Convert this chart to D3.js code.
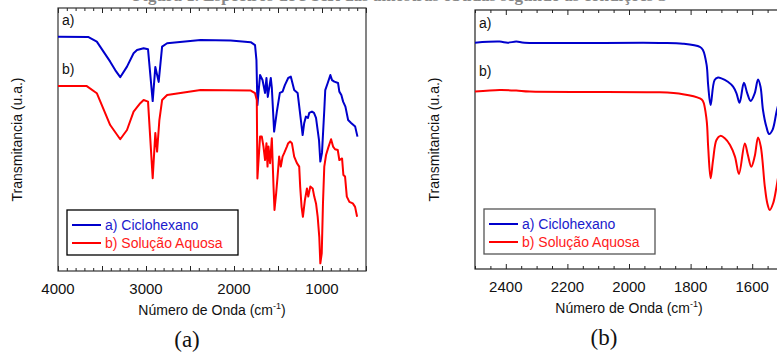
<!DOCTYPE html>
<html>
<head>
<meta charset="utf-8">
<script src="https://cdn.jsdelivr.net/npm/d3@7"></script>
<style>
  body { margin: 0; background: #fff; }
  svg { display: block; }
</style>
</head>
<body>
<svg id="chart" width="777" height="353"></svg>
<script>
// spectra as [wavenumber cm-1, transmittance a.u.]
const ciclohexanoA = [
  [4000, 89.1], [3658, 89.0], [3559, 87.2], [3407, 79.6], [3350, 76.4], [3293, 73.7],
  [3216, 77.7], [3141, 82.8], [3102, 84.0], [3027, 84.7], [2977, 84.3], [2924, 64.6],
  [2894, 77.6], [2856, 71.9], [2817, 85.3], [2760, 86.6], [2380, 87.8], [2038, 87.6],
  [1810, 87.0], [1761, 85.9], [1745, 80.2], [1734, 63.1], [1704, 74.5], [1676, 72.6],
  [1647, 67.7], [1631, 73.4], [1616, 66.2], [1582, 73.4], [1570, 69.6], [1544, 53.0],
  [1513, 60.6], [1479, 67.7], [1448, 68.2], [1422, 70.7], [1384, 73.4], [1354, 73.9],
  [1316, 68.8], [1277, 67.7], [1240, 57.4], [1220, 51.7], [1202, 56.3], [1183, 58.7],
  [1160, 58.2], [1145, 60.1], [1114, 60.6], [1091, 60.1], [1068, 58.2], [1034, 49.8],
  [1019, 41.6], [1000, 44.9], [974, 61.2], [963, 68.8], [935, 71.5], [905, 74.5],
  [886, 72.6], [860, 72.0], [818, 71.5], [803, 68.2], [780, 66.9], [760, 64.4],
  [734, 62.5], [703, 57.4], [669, 56.3], [623, 54.9], [597, 51.1]
];
const aquosaA = [
  [4000, 70.3], [3673, 70.3], [3559, 67.6], [3407, 55.5], [3293, 50.1], [3216, 53.6],
  [3141, 60.6], [3065, 63.8], [3027, 65.0], [2977, 64.4], [2924, 35.3], [2894, 52.5],
  [2874, 45.4], [2848, 57.4], [2817, 65.0], [2760, 66.9], [2380, 68.8], [1810, 68.6],
  [1761, 67.6], [1741, 65.0], [1734, 35.2], [1704, 51.1], [1684, 51.1], [1665, 47.3],
  [1647, 42.2], [1631, 48.6], [1619, 39.7], [1608, 47.3], [1590, 41.0], [1570, 50.5],
  [1551, 32.1], [1540, 23.2], [1521, 29.5], [1505, 35.9], [1487, 43.5], [1468, 39.7],
  [1448, 43.5], [1430, 44.8], [1399, 47.3], [1384, 48.6], [1362, 49.2], [1342, 48.6],
  [1316, 43.5], [1285, 41.0], [1259, 39.7], [1248, 32.1], [1232, 24.4], [1217, 20.6],
  [1194, 27.0], [1171, 31.4], [1156, 28.3], [1133, 32.1], [1106, 31.4], [1088, 28.3],
  [1068, 25.7], [1049, 20.6], [1031, 13.0], [1019, 2.9], [1003, 6.7], [989, 25.7],
  [974, 39.7], [954, 44.1], [928, 47.0], [897, 50.1], [874, 47.3], [852, 46.3],
  [821, 46.0], [803, 42.2], [772, 42.8], [757, 36.5], [738, 35.9], [718, 28.3],
  [689, 26.3], [650, 25.7], [624, 24.4], [601, 20.6]
];
const ciclohexanoB = [
  [2500, 87.4], [2420, 87.8], [2394, 87.4], [2366, 87.8], [2339, 87.4], [1900, 87.3],
  [1825, 87.0], [1770, 85.8], [1760, 84.6], [1748, 78.8], [1743, 71.0], [1735, 63.3],
  [1722, 73.0], [1711, 73.9], [1700, 73.6], [1679, 72.3], [1662, 70.4], [1651, 67.8],
  [1641, 64.2], [1627, 71.9], [1616, 67.8], [1605, 64.9], [1592, 67.8], [1581, 73.2],
  [1573, 70.4], [1565, 61.4], [1554, 54.9], [1545, 52.1], [1534, 53.7], [1521, 60.7],
  [1510, 66.0]
];
const aquosaB = [
  [2500, 68.5], [2420, 69.1], [2366, 68.9], [2322, 68.5], [1900, 68.2], [1825, 67.5],
  [1770, 65.9], [1760, 64.9], [1748, 57.5], [1743, 47.2], [1735, 35.0], [1727, 42.1],
  [1716, 49.8], [1703, 51.4], [1689, 50.5], [1672, 47.9], [1656, 43.4], [1643, 36.7],
  [1624, 48.5], [1614, 44.0], [1603, 39.5], [1592, 43.4], [1581, 50.8], [1572, 47.2],
  [1559, 31.8], [1551, 25.4], [1543, 22.8], [1532, 25.4], [1521, 31.8], [1510, 40.0]
];

const ticksA = [4000, 3000, 2000, 1000];
const ticksB = [2400, 2200, 2000, 1800, 1600];
const seriesNames = ['a) Ciclohexano', 'b) Solução Aquosa'];
const curveTags = ['a)', 'b)'];

const BLUE = '#0000cc';
const RED = '#ff0000';
const FONT = 'Liberation Sans, Arial, sans-serif';

const svg = d3.select('#chart');

// caption of the page above, only its lower edge shows
svg.append('text')
  .attr('x', 400)
  .attr('y', 1)
  .attr('text-anchor', 'middle')
  .attr('font-family', 'Liberation Serif, Times New Roman, serif')
  .attr('font-weight', 'bold')
  .attr('font-size', 17)
  .attr('fill', '#888')
  .text('Figura 1. Espectros de FTIR das amostras obtidas segundo as condições S');

const panels = [
  {
    id: 'a', left: 58, right: 366, top: 8, bottom: 271,
    domain: [4000, 500], ticks: ticksA, major: 500, minor: 100,
    blue: ciclohexanoA, red: aquosaA, curve: d3.curveLinear,
    tagY: [25, 74], legend: { x: 67, y: 210, w: 171, h: 45, stroke: '#000' },
    yLabelX: 17, captionX: 187
  },
  {
    id: 'b', left: 475, right: 783, top: 10, bottom: 269,
    domain: [2500, 1500], ticks: ticksB, major: 200, minor: 50,
    blue: ciclohexanoB, red: aquosaB, curve: d3.curveCatmullRom.alpha(0.5),
    tagY: [28, 76], legend: { x: 484, y: 209, w: 171, h: 45, stroke: '#555' },
    yLabelX: 434, captionX: 604
  }
];

panels.forEach(p => {
  const x = d3.scaleLinear().domain(p.domain).range([p.left, p.right]);
  const y = d3.scaleLinear().domain([0, 100]).range([p.bottom, p.top]);
  const g = svg.append('g').attr('id', 'panel-' + p.id);

  g.append('clipPath').attr('id', 'clip-' + p.id)
    .append('rect')
    .attr('x', p.left).attr('y', p.top)
    .attr('width', p.right - p.left).attr('height', p.bottom - p.top);

  // minor / major ticks, bottom and top, pointing inward
  const lo = Math.min(...p.domain), hi = Math.max(...p.domain);
  const minorVals = d3.range(Math.ceil(lo / p.minor) * p.minor, hi + 1, p.minor);

  const bottomAxis = d3.axisBottom(x).tickValues(minorVals)
    .tickSize(-3).tickFormat('');
  const topAxis = d3.axisTop(x).tickValues(minorVals)
    .tickSize(-3).tickFormat('');

  [[bottomAxis, p.bottom], [topAxis, p.top]].forEach(([ax, yy]) => {
    const a = g.append('g').attr('transform', `translate(0,${yy})`).call(ax);
    a.select('.domain').remove();
    a.selectAll('.tick line')
      .attr('stroke', '#222')
      .attr('y2', d => (d % p.major === 0 ? 5 : 3) * (yy === p.top ? 1 : -1));
  });

  // tick labels
  g.append('g').selectAll('text')
    .data(p.ticks)
    .join('text')
    .attr('x', d => x(d))
    .attr('y', p.bottom + 23)
    .attr('text-anchor', 'middle')
    .attr('font-family', FONT)
    .attr('font-size', 15)
    .attr('fill', '#111')
    .text(d => d);

  // frame
  g.append('rect')
    .attr('x', p.left).attr('y', p.top)
    .attr('width', p.right - p.left).attr('height', p.bottom - p.top)
    .attr('fill', 'none')
    .attr('stroke', p.id === 'a' ? '#333' : '#222')
    .attr('stroke-width', 1.2);

  // spectra
  const line = d3.line()
    .x(d => x(d[0]))
    .y(d => y(d[1]))
    .curve(p.curve);

  [[p.blue, BLUE], [p.red, RED]].forEach(([data, col]) => {
    g.append('path')
      .datum(data)
      .attr('clip-path', `url(#clip-${p.id})`)
      .attr('fill', 'none')
      .attr('stroke', col)
      .attr('stroke-width', 2)
      .attr('stroke-linejoin', 'round')
      .attr('d', line);
  });

  // curve tags a) b)
  curveTags.forEach((t, i) => {
    g.append('text')
      .attr('x', p.left + 4)
      .attr('y', p.tagY[i])
      .attr('font-family', FONT)
      .attr('font-size', 14)
      .attr('fill', '#111')
      .text(t);
  });

  // legend
  const L = p.legend;
  const lg = g.append('g');
  lg.append('rect')
    .attr('x', L.x).attr('y', L.y).attr('width', L.w).attr('height', L.h)
    .attr('fill', '#fff').attr('stroke', L.stroke).attr('stroke-width', 1.3);
  [BLUE, RED].forEach((col, i) => {
    const ly = L.y + 15 + i * 18;
    lg.append('line')
      .attr('x1', L.x + 5).attr('x2', L.x + 34)
      .attr('y1', ly).attr('y2', ly)
      .attr('stroke', col).attr('stroke-width', 2);
    lg.append('text')
      .attr('x', L.x + 38).attr('y', ly + 5)
      .attr('font-family', FONT)
      .attr('font-size', 14)
      .attr('fill', col === BLUE ? '#1a1acc' : '#ff1a1a')
      .text(seriesNames[i]);
  });

  // axis titles
  const xt = g.append('text')
    .attr('x', (p.left + p.right) / 2)
    .attr('y', p.bottom + 44)
    .attr('text-anchor', 'middle')
    .attr('font-family', FONT)
    .attr('font-size', 14)
    .attr('fill', '#111');
  xt.append('tspan').text('Número de Onda (cm');
  xt.append('tspan').attr('font-size', 9).attr('dy', -6).text('-1');
  xt.append('tspan').attr('dy', 6).text(')');

  g.append('text')
    .attr('transform', `translate(${p.yLabelX + 5},${(p.top + p.bottom) / 2}) rotate(-90)`)
    .attr('text-anchor', 'middle')
    .attr('font-family', FONT)
    .attr('font-size', 14)
    .attr('fill', '#111')
    .text('Transmitancia (u.a.)');

  // subfigure caption
  g.append('text')
    .attr('x', p.captionX)
    .attr('y', p.bottom + 76)
    .attr('text-anchor', 'middle')
    .attr('font-family', 'Liberation Serif, Times New Roman, serif')
    .attr('font-size', 23)
    .attr('fill', '#111')
    .text(`(${p.id})`);
});
</script>
</body>
</html>
